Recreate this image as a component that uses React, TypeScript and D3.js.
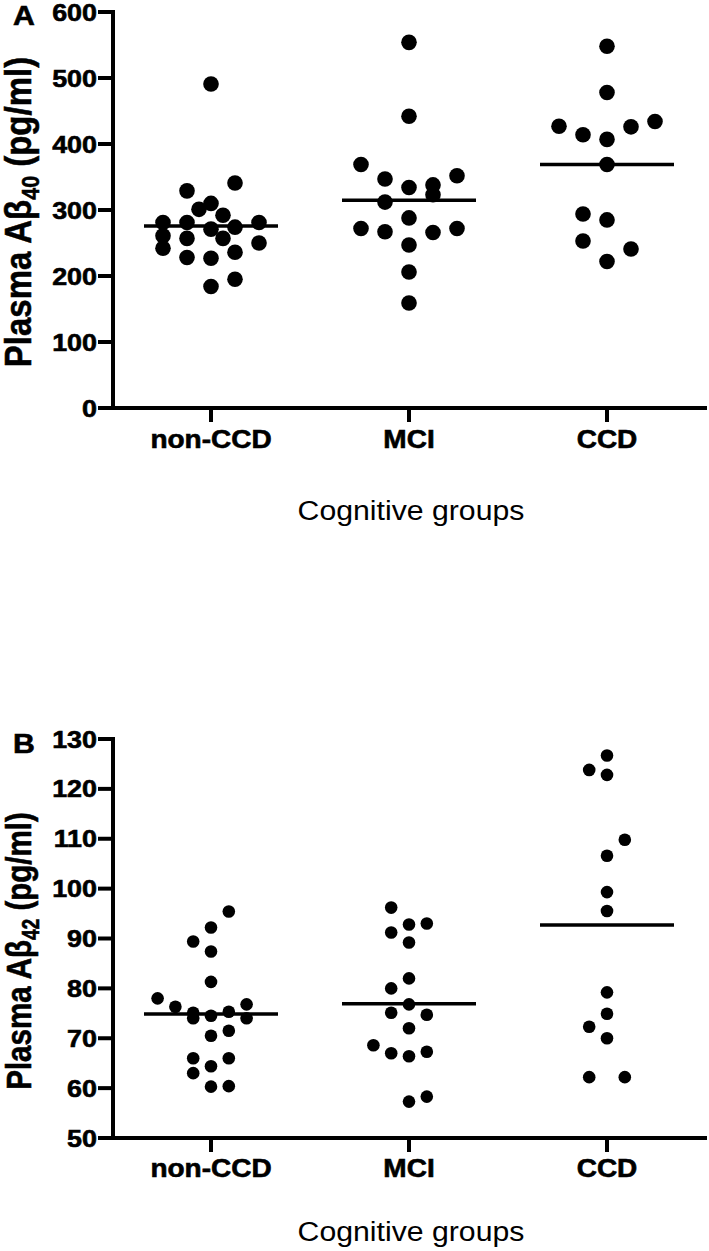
import React from "react";
import * as d3 from "d3";

// ---------- data ----------
const categories = ["non-CCD", "MCI", "CCD"];

// Panel A: plasma Aβ40 (pg/ml)
const ab40NonCCD = [491, 329, 341, 301, 310, 292, 281, 281, 281, 271, 274, 261, 257, 257, 250, 242, 236, 228, 227, 195, 184];
const ab40NonCCDSlots = [0, -1, 1, -0.5, 0, 0.5, -2, -1, 2, 0, 1, -2, -1, 0.5, 2, -2, 1, -1, 0, 1, 0];
const ab40MCI = [554, 442, 369, 347, 334, 338, 323, 352, 312, 288, 272, 267, 266, 272, 247, 206, 159];
const ab40MCISlots = [0, 0, -2, -1, 0, 1, 1, 2, -1, 0, -2, -1, 1, 2, 0, 0, 0];
const ab40CCD = [548, 478, 427, 414, 407, 426, 434, 369, 294, 285, 253, 241, 222];
const ab40CCDSlots = [0, 0, -2, -1, 0, 1, 2, 0, -1, 0, -1, 1, 0];
const ab40Ticks = [0, 100, 200, 300, 400, 500, 600];

// Panel B: plasma Aβ42 (pg/ml)
const ab42NonCCD = [95.4, 92.2, 89.4, 87.4, 81.3, 78.0, 76.3, 75.1, 74.0, 74.5, 75.3, 76.8, 74.0, 70.5, 71.5, 66.0, 66.0, 64.4, 63.0, 60.3, 60.4];
const ab42NonCCDSlots = [1, 0, -1, 0, 0, -3, -2, -1, -1, 0, 1, 2, 2, 0, 1, -1, 1, 0, -1, 0, 1];
const ab42MCI = [96.2, 91.2, 92.8, 93.0, 89.2, 82.0, 80.0, 76.8, 75.1, 74.7, 72.0, 68.6, 67.0, 66.4, 67.3, 57.3, 58.3];
const ab42MCISlots = [-1, -1, 0, 1, 0, 0, -1, 0, -1, 1, 0, -2, -1, 0, 1, 0, 1];
const ab42CCD = [126.7, 123.8, 122.8, 109.8, 106.6, 99.3, 95.5, 79.2, 74.9, 72.3, 70.0, 62.2, 62.2];
const ab42CCDSlots = [0, -1, 0, 1, 0, 0, 0, 0, 0, -1, 0, -1, 1];
const ab42Ticks = [50, 60, 70, 80, 90, 100, 110, 120, 130];

// ---------- style ----------
const FONT = "'Liberation Sans', Arial, Helvetica, sans-serif";
const SX = 1.12; // horizontal glyph widening to match reference lettering
const AXIS_X = 113;
const X_RANGE: [number, number] = [112, 706];

type PanelProps = {
  letter: string;
  letterY: number;
  groups: number[][];
  slots: number[][];
  domain: [number, number];
  ticks: number[];
  yTop: number;
  yBottom: number;
  r: number;
  step: number;
  sub: string;
  titleSize: number;
  titleSX: number;
  titleY: number;
  catBaseline: number;
  xTitleBaseline: number;
};

function SText({ x, y, size, weight, anchor, children }: any) {
  const bold = weight === "bold";
  return (
    <g transform={`translate(${x},${y}) scale(${SX},1)`}>
      <text
        x={0}
        y={0}
        fontFamily={FONT}
        fontSize={size}
        fontWeight={weight}
        textAnchor={anchor}
        fill="#000"
        stroke={bold ? "#000" : "none"}
        strokeWidth={bold ? 0.6 : 0}
      >
        {children}
      </text>
    </g>
  );
}

function Panel(p: PanelProps) {
  const x = d3.scalePoint<string>().domain(categories).range(X_RANGE).padding(0.5);
  const y = d3.scaleLinear().domain(p.domain).range([p.yBottom, p.yTop]);
  const halfMean = 67;
  return (
    <g>
      {/* panel letter */}
      <SText x={13} y={p.letterY} size={27} weight="bold" anchor="start">{p.letter}</SText>

      {/* y-axis title */}
      <g transform={`translate(31,${p.titleY}) scale(${p.titleSX},1) rotate(-90)`}>
        <text
          x={0}
          y={0}
          fontFamily={FONT}
          fontSize={p.titleSize}
          fontWeight="bold"
          textAnchor="middle"
          fill="#000"
          stroke="#000"
          strokeWidth={0.5}
        >
          Plasma Aβ
          <tspan fontSize={p.titleSize * 0.65} dy={p.titleSize * 0.22}>{p.sub}</tspan>
          <tspan dy={-p.titleSize * 0.22}> (pg/ml)</tspan>
        </text>
      </g>

      {/* y axis */}
      <line x1={AXIS_X} x2={AXIS_X} y1={y(p.domain[1]) - 2} y2={y(p.domain[0]) + 2} stroke="#000" strokeWidth={4} />
      {p.ticks.map((t) => (
        <g key={t}>
          <line x1={98} x2={AXIS_X} y1={y(t)} y2={y(t)} stroke="#000" strokeWidth={4} />
          <SText x={97} y={y(t) + 8.5} size={24} weight="bold" anchor="end">{t}</SText>
        </g>
      ))}

      {/* x axis */}
      <line x1={AXIS_X - 2} x2={X_RANGE[1] + 1} y1={y(p.domain[0])} y2={y(p.domain[0])} stroke="#000" strokeWidth={4} />
      {categories.map((c) => (
        <g key={c}>
          <line x1={x(c)!} x2={x(c)!} y1={y(p.domain[0])} y2={y(p.domain[0]) + 14} stroke="#000" strokeWidth={4} />
          <SText x={x(c)!} y={p.catBaseline} size={25} weight="bold" anchor="middle">{c}</SText>
        </g>
      ))}
      <SText x={(X_RANGE[0] + X_RANGE[1]) / 2 + 2} y={p.xTitleBaseline} size={27} weight="normal" anchor="middle">
        Cognitive groups
      </SText>

      {/* points */}
      {p.groups.map((vals, gi) => (
        <g key={gi}>
          {vals.map((v, i) => (
            <circle key={i} cx={x(categories[gi])! + p.slots[gi][i] * p.step} cy={y(v)} r={p.r} fill="#000" />
          ))}
          <line
            x1={x(categories[gi])! - halfMean}
            x2={x(categories[gi])! + halfMean}
            y1={y(d3.mean(vals)!)}
            y2={y(d3.mean(vals)!)}
            stroke="#000"
            strokeWidth={3.5}
          />
        </g>
      ))}
    </g>
  );
}

export default function App() {
  return (
    <svg width={709} height={1251} style={{ position: "absolute", left: 0, top: 0, background: "#fff" }}>
      <rect width={709} height={1251} fill="#fff" />
      <Panel
        letter="A"
        letterY={25}
        groups={[ab40NonCCD, ab40MCI, ab40CCD]}
        slots={[ab40NonCCDSlots, ab40MCISlots, ab40CCDSlots]}
        domain={[0, 600]}
        ticks={ab40Ticks}
        yTop={12}
        yBottom={408}
        r={7.8}
        step={24}
        sub="40"
        titleSize={33}
        titleSX={1.1}
        titleY={212}
        catBaseline={448}
        xTitleBaseline={520}
      />
      <Panel
        letter="B"
        letterY={753}
        groups={[ab42NonCCD, ab42MCI, ab42CCD]}
        slots={[ab42NonCCDSlots, ab42MCISlots, ab42CCDSlots]}
        domain={[50, 130]}
        ticks={ab42Ticks}
        yTop={739}
        yBottom={1138}
        r={6.3}
        step={17.8}
        sub="42"
        titleSize={29.5}
        titleSX={1.2}
        titleY={951}
        catBaseline={1177}
        xTitleBaseline={1241}
      />
    </svg>
  );
}
